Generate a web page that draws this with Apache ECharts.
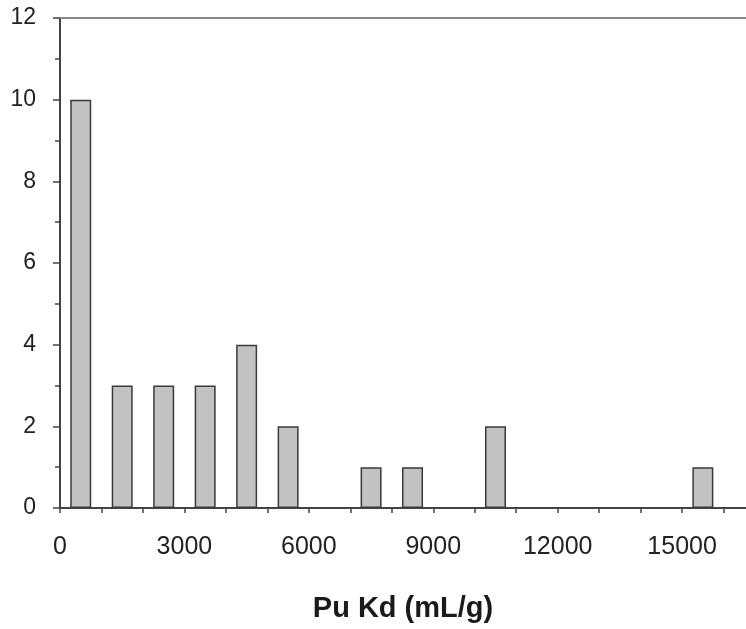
<!DOCTYPE html>
<html>
<head>
<meta charset="utf-8">
<script src="https://cdn.jsdelivr.net/npm/echarts@6/dist/echarts.min.js"></script>
<style>
  html, body { margin: 0; padding: 0; background: #fff; }
  #chart { width: 746px; height: 629px; }
</style>
</head>
<body>
<div id="chart"></div>
<script>
// bin centres (mL/g) and counts
const binCenters = [500, 1500, 2500, 3500, 4500, 5500, 7500, 8500, 10500, 15500]
const counts = [10, 3, 3, 3, 4, 2, 1, 1, 2, 1]
const xLabelStep = 3000

const chart = echarts.init(document.getElementById('chart'))
const font = '"Liberation Sans", Arial, sans-serif'

const option = {
  animation: false,
  grid: { left: 60, right: 0, top: 18, bottom: 121 },
  xAxis: [
    {
      type: 'value',
      min: 0,
      max: 16540,
      interval: 1000,
      name: 'Pu Kd (mL/g)',
      nameLocation: 'middle',
      nameGap: 86,
      nameTextStyle: { fontFamily: font, fontSize: 29, fontWeight: 'bold', color: '#1a1a1a' },
      axisLine: { lineStyle: { color: '#444', width: 2 } },
      axisTick: { length: 5, lineStyle: { color: '#444', width: 1.5 } },
      axisLabel: {
        margin: 27,
        fontFamily: font,
        fontSize: 25,
        color: '#222',
        showMaxLabel: false,
        formatter: v => (v % xLabelStep === 0 ? String(v) : '')
      },
      splitLine: { show: false }
    },
    {
      type: 'value',
      position: 'top',
      min: 0,
      max: 16540,
      axisLine: { show: true, lineStyle: { color: '#888', width: 2 } },
      axisTick: { show: false },
      axisLabel: { show: false },
      splitLine: { show: false }
    }
  ],
  yAxis: {
    type: 'value',
    min: 0,
    max: 12,
    interval: 2,
    minorTick: { show: true, splitNumber: 2, length: 5, lineStyle: { color: '#444', width: 1.5 } },
    axisLine: { show: true, lineStyle: { color: '#444', width: 2 } },
    axisTick: { show: true, length: 7, lineStyle: { color: '#444', width: 1.5 } },
    axisLabel: { margin: 24, fontFamily: font, fontSize: 23, color: '#222' },
    splitLine: { show: false }
  },
  series: [
    {
      type: 'bar',
      xAxisIndex: 0,
      barWidth: 21,
      data: binCenters.map((c, i) => [c, counts[i]]),
      itemStyle: { color: '#c2c2c2', borderColor: '#3a3a3a', borderWidth: 1.5 }
    }
  ]
}
chart.setOption(option)
</script>
</body>
</html>
